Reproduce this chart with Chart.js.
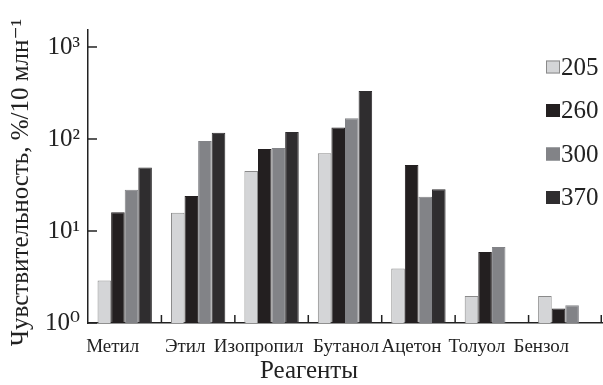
<!DOCTYPE html>
<html>
<head>
<meta charset="utf-8">
<script src="https://cdn.jsdelivr.net/npm/chart.js@4.4.1/dist/chart.umd.min.js"></script>
<style>
  html, body { margin: 0; padding: 0; background: #fff; }
  #wrap { width: 603px; height: 385px; }
</style>
</head>
<body>
<div id="wrap"><canvas id="sensChart"></canvas></div>
<script>
// data
const categories = ['Метил', 'Этил', 'Изопропил', 'Бутанол', 'Ацетон', 'Толуол', 'Бензол'];
const seriesLabels = ['205', '260', '300', '370'];
const s205 = [2.9, 15.8, 45, 70, 3.9, 1.97, 1.97];
const s260 = [16, 24, 78, 133, 52, 5.9, 1.44];
const s300 = [28, 95, 80, 168, 23.5, 6.7, 1.56];
const s370 = [49, 117, 119, 332, 28.4, null, null];
const yTicks = [1, 10, 100, 1000];

const fills = ['#d4d5d7', '#231f20', '#828387', '#2f2d2f'];
const borders = ['#8a8a8a', '#231f20', '#828387', '#2f2d2f'];
const serif = '"Liberation Serif", "DejaVu Serif", serif';
const sup = { '0': '⁰', '1': '¹', '2': '²', '3': '³' };
// the category names in the original sit a bit off their slot centres
const labelShift = [-12, -13, -13, 1, -7, -15, -24];

// short inward ticks, axis texts, legend inside the plot
const decorPlugin = {
    id: 'decor',
    afterDraw(chart) {
        const ctx = chart.ctx;
        const x = chart.scales.x, y = chart.scales.y;
        const area = chart.chartArea;
        ctx.save();
        ctx.strokeStyle = '#222';
        ctx.lineWidth = 1.5;
        yTicks.forEach(v => {
            const py = y.getPixelForValue(v);
            ctx.beginPath(); ctx.moveTo(area.left, py); ctx.lineTo(area.left + 9, py); ctx.stroke();
        });
        const half = (x.getPixelForValue(1) - x.getPixelForValue(0)) / 2;
        for (let i = 1; i <= categories.length; i++) {
            const px = Math.min(x.getPixelForValue(i - 1) + half, area.right - 0.75);
            ctx.beginPath(); ctx.moveTo(px, area.bottom); ctx.lineTo(px, area.bottom - 8); ctx.stroke();
        }
        ctx.fillStyle = '#222';
        ctx.font = '19px ' + serif;
        ctx.textAlign = 'center';
        ctx.textBaseline = 'alphabetic';
        categories.forEach((c, i) => {
            ctx.fillText(c, x.getPixelForValue(i) + labelShift[i], area.bottom + 29);
        });
        // axis titles
        ctx.font = '25px ' + serif;
        ctx.fillText('Реагенты', (area.left + area.right) / 2 - 36, 378);
        ctx.save();
        ctx.translate(28, (area.top + area.bottom) / 2 + 6);
        ctx.rotate(-Math.PI / 2);
        ctx.fillText('Чувствительность, %/10 млн⁻¹', 0, 0);
        ctx.restore();
        // legend
        ctx.textAlign = 'left';
        ctx.textBaseline = 'middle';
        chart.data.datasets.forEach((ds, i) => {
            const cy = 67 + i * 43.5;
            ctx.fillStyle = ds.backgroundColor;
            ctx.fillRect(546, cy - 6.5, 14, 13);
            ctx.strokeStyle = ds.borderColor;
            ctx.lineWidth = 1;
            ctx.strokeRect(546.5, cy - 6, 13, 12);
            ctx.fillStyle = '#222';
            ctx.fillText(ds.label, 561, cy + 1);
        });
        ctx.restore();
    }
};

const ctx = document.getElementById('sensChart').getContext('2d');
const chart = new Chart(ctx, {
    type: 'bar',
    data: {
        labels: categories,
        datasets: [s205, s260, s300, s370].map((d, i) => ({
            label: seriesLabels[i],
            data: d,
            backgroundColor: fills[i],
            borderColor: borders[i],
            borderWidth: 1,
            categoryPercentage: 0.74,
            barPercentage: 1.0
        }))
    },
    options: {
        responsive: true,
        maintainAspectRatio: false,
        animation: false,
        layout: { padding: { top: 30, right: 1, left: 0, bottom: 0 } },
        plugins: {
            legend: { display: false },
            tooltip: { enabled: false }
        },
        scales: {
            x: {
                grid: { display: false, drawTicks: false },
                border: { display: true, color: '#222', width: 1.5 },
                ticks: { display: false },
                afterFit(scale) { scale.height = 62; }
            },
            y: {
                type: 'logarithmic',
                min: 1,
                max: 1530,
                grid: { display: false, drawTicks: false },
                border: { display: true, color: '#222', width: 1.5 },
                afterBuildTicks(scale) { scale.ticks = yTicks.map(v => ({ value: v })); },
                ticks: {
                    color: '#222',
                    font: { family: serif, size: 25 },
                    padding: 8,
                    callback: v => '10' + sup[String(Math.round(Math.log10(v)))]
                },
                afterFit(scale) { scale.width = 88; }
            }
        }
    },
    plugins: [decorPlugin]
});
</script>
</body>
</html>
